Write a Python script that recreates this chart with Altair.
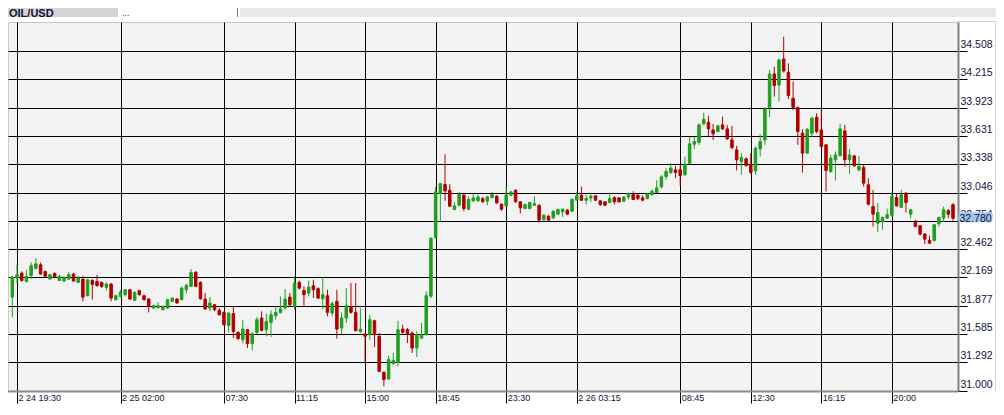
import altair as alt
import pandas as pd

# ---- OHLC data (15-minute candles, OIL/USD) ----
opens = [
    31.966, 32.163, 32.214, 32.128, 32.190, 32.262, 32.300, 32.231, 32.152, 32.211,
    32.138, 32.132, 32.152, 32.204, 32.118, 32.152, 31.980, 32.138, 32.128, 32.118,
    32.066, 32.101, 31.939, 31.973, 31.991, 32.042, 31.932, 32.032, 31.980, 31.946,
    31.853, 31.860, 31.836, 31.853, 31.922, 31.946, 31.939, 32.042, 32.077, 32.224,
    32.118, 31.946, 31.853, 31.887, 31.829, 31.808, 31.671, 31.795, 31.602, 31.526,
    31.629, 31.485, 31.602, 31.750, 31.629, 31.705, 31.774, 31.808, 31.853, 31.966,
    31.870, 32.118, 32.035, 32.008, 32.083, 32.053, 31.949, 31.980, 31.801, 31.922,
    31.647, 31.750, 31.870, 31.808, 31.612, 31.585, 31.578, 31.722, 31.561, 31.189,
    31.120, 31.279, 31.292, 31.636, 31.629, 31.595, 31.440, 31.543, 31.578, 31.975,
    32.578, 33.036, 33.129, 33.070, 32.871, 32.915, 33.019, 32.874, 32.960, 32.960,
    32.984, 32.957, 32.994, 33.008, 32.926, 32.908, 33.019, 33.070, 32.950, 32.881,
    32.881, 32.915, 32.915, 32.768, 32.802, 32.785, 32.823, 32.847, 32.864, 32.853,
    32.967, 33.019, 32.967, 32.991, 33.012, 32.960, 32.950, 32.943, 32.994, 32.991,
    32.957, 33.001, 33.025, 33.019, 32.991, 32.984, 33.025, 33.046, 33.105, 33.212,
    33.253, 33.281, 33.281, 33.229, 33.349, 33.545, 33.563, 33.755, 33.772, 33.693,
    33.676, 33.745, 33.704, 33.590, 33.487, 33.367, 33.394, 33.339, 33.270, 33.497,
    33.590, 33.927, 34.271, 34.158, 34.426, 34.288, 34.020, 33.924, 33.659, 33.453,
    33.659, 33.824, 33.693, 33.539, 33.263, 33.384, 33.429, 33.683, 33.384, 33.425,
    33.281, 33.305, 33.126, 32.902, 32.730, 32.748, 32.782, 32.810, 32.995, 32.895,
    33.040, 32.823, 32.737, 32.703, 32.617, 32.552, 32.552, 32.724, 32.782, 32.858,
    32.920,
]
highs = [
    32.187, 32.300, 32.231, 32.248, 32.324, 32.369, 32.324, 32.238, 32.204, 32.221,
    32.197, 32.180, 32.224, 32.214, 32.187, 32.187, 32.152, 32.152, 32.197, 32.128,
    32.118, 32.111, 31.991, 32.035, 32.049, 32.049, 32.025, 32.042, 31.991, 31.956,
    31.887, 31.912, 31.877, 31.946, 31.966, 31.956, 32.077, 32.104, 32.255, 32.231,
    32.128, 32.008, 31.966, 31.894, 31.853, 31.819, 31.808, 31.870, 31.612, 31.726,
    31.636, 31.602, 31.760, 31.819, 31.795, 31.829, 31.870, 31.973, 32.049, 32.008,
    32.180, 32.138, 32.077, 32.138, 32.145, 32.066, 32.173, 32.042, 31.922, 32.042,
    31.808, 32.059, 32.111, 32.111, 31.853, 31.595, 31.784, 31.733, 31.595, 31.200,
    31.361, 31.389, 31.722, 31.681, 31.647, 31.612, 31.612, 31.698, 32.025, 32.585,
    33.105, 33.146, 33.442, 33.132, 32.950, 33.053, 33.029, 33.008, 33.036, 33.025,
    33.001, 33.012, 33.053, 33.019, 32.932, 33.111, 33.060, 33.077, 32.957, 32.932,
    32.950, 33.008, 32.922, 32.823, 32.812, 32.864, 32.881, 32.881, 32.874, 32.984,
    33.053, 33.105, 33.025, 33.043, 33.019, 32.967, 32.957, 33.046, 33.008, 33.001,
    33.008, 33.046, 33.060, 33.029, 33.019, 33.043, 33.077, 33.173, 33.225, 33.298,
    33.349, 33.322, 33.332, 33.418, 33.625, 33.618, 33.762, 33.872, 33.838, 33.755,
    33.745, 33.831, 33.745, 33.735, 33.528, 33.453, 33.411, 33.453, 33.521, 33.649,
    33.927, 34.312, 34.347, 34.433, 34.656, 34.381, 34.192, 33.934, 33.700, 33.711,
    33.831, 33.865, 33.907, 33.545, 33.435, 33.470, 33.755, 33.745, 33.494, 33.435,
    33.425, 33.332, 33.195, 33.074, 32.937, 32.799, 32.878, 33.040, 33.040, 33.074,
    33.050, 32.875, 32.765, 32.713, 32.627, 32.600, 32.724, 32.799, 32.902, 32.875,
    32.937,
]
lows = [
    31.757, 32.111, 32.128, 32.118, 32.152, 32.255, 32.197, 32.173, 32.152, 32.163,
    32.135, 32.128, 32.145, 32.128, 32.111, 31.922, 31.973, 31.939, 32.077, 32.059,
    32.035, 31.922, 31.932, 31.966, 31.973, 31.939, 31.929, 31.980, 31.932, 31.808,
    31.846, 31.846, 31.829, 31.846, 31.915, 31.898, 31.932, 32.001, 32.070, 32.070,
    31.939, 31.836, 31.819, 31.819, 31.777, 31.671, 31.602, 31.543, 31.526, 31.492,
    31.440, 31.416, 31.578, 31.612, 31.561, 31.554, 31.733, 31.795, 31.836, 31.870,
    31.836, 32.042, 31.877, 31.973, 31.956, 31.946, 31.843, 31.767, 31.767, 31.537,
    31.578, 31.698, 31.795, 31.612, 31.595, 31.286, 31.526, 31.451, 31.189, 31.045,
    31.114, 31.268, 31.251, 31.588, 31.492, 31.389, 31.347, 31.533, 31.568, 31.955,
    32.571, 32.743, 32.960, 32.898, 32.864, 32.908, 32.853, 32.864, 32.950, 32.950,
    32.943, 32.915, 32.984, 32.932, 32.857, 32.898, 33.008, 32.943, 32.829, 32.874,
    32.874, 32.908, 32.737, 32.750, 32.750, 32.771, 32.812, 32.795, 32.812, 32.847,
    32.960, 32.960, 32.922, 32.950, 32.960, 32.908, 32.908, 32.939, 32.922, 32.943,
    32.950, 32.977, 32.967, 32.967, 32.957, 32.974, 33.012, 33.036, 33.087, 33.177,
    33.239, 33.195, 33.116, 33.222, 33.343, 33.494, 33.539, 33.745, 33.631, 33.590,
    33.669, 33.693, 33.590, 33.494, 33.274, 33.229, 33.315, 33.239, 33.229, 33.418,
    33.539, 33.824, 34.037, 33.986, 34.285, 34.013, 33.900, 33.539, 33.253, 33.446,
    33.625, 33.659, 33.514, 33.057, 33.253, 33.171, 33.418, 33.315, 33.239, 33.315,
    33.263, 33.109, 32.913, 32.696, 32.638, 32.662, 32.775, 32.799, 32.902, 32.885,
    32.840, 32.782, 32.689, 32.603, 32.514, 32.514, 32.541, 32.696, 32.741, 32.782,
    32.758,
]
closes = [
    32.173, 32.197, 32.138, 32.180, 32.290, 32.310, 32.204, 32.180, 32.197, 32.176,
    32.180, 32.169, 32.197, 32.132, 32.163, 31.966, 32.145, 32.097, 32.083, 32.077,
    32.101, 31.956, 31.980, 32.018, 32.042, 31.946, 32.015, 31.991, 31.939, 31.877,
    31.877, 31.877, 31.870, 31.939, 31.956, 31.905, 32.059, 32.087, 32.221, 32.077,
    31.949, 31.843, 31.905, 31.836, 31.784, 31.681, 31.801, 31.612, 31.537, 31.636,
    31.485, 31.588, 31.733, 31.623, 31.715, 31.784, 31.808, 31.846, 31.946, 31.887,
    32.111, 32.059, 31.991, 32.070, 32.042, 31.956, 31.991, 31.808, 31.898, 31.636,
    31.750, 31.877, 31.808, 31.619, 31.636, 31.561, 31.733, 31.578, 31.200, 31.114,
    31.320, 31.313, 31.629, 31.602, 31.588, 31.440, 31.578, 31.578, 31.980, 32.573,
    33.053, 33.139, 33.063, 32.905, 32.908, 33.025, 32.881, 32.974, 32.991, 33.001,
    32.950, 33.001, 33.025, 32.939, 32.874, 33.019, 33.053, 32.950, 32.888, 32.922,
    32.943, 32.932, 32.761, 32.812, 32.761, 32.853, 32.871, 32.874, 32.823, 32.977,
    33.012, 32.967, 32.984, 33.008, 32.967, 32.922, 32.915, 32.984, 32.950, 32.950,
    33.001, 33.036, 32.974, 32.984, 32.967, 33.029, 33.060, 33.094, 33.208, 33.263,
    33.298, 33.253, 33.222, 33.339, 33.549, 33.573, 33.745, 33.803, 33.704, 33.652,
    33.735, 33.704, 33.601, 33.511, 33.384, 33.408, 33.325, 33.253, 33.504, 33.573,
    33.910, 34.271, 34.151, 34.415, 34.302, 34.048, 33.927, 33.676, 33.453, 33.700,
    33.814, 33.676, 33.521, 33.274, 33.401, 33.435, 33.704, 33.384, 33.435, 33.322,
    33.315, 33.143, 32.926, 32.823, 32.840, 32.789, 32.816, 33.006, 32.909, 33.023,
    32.944, 32.868, 32.696, 32.617, 32.565, 32.524, 32.713, 32.789, 32.868, 32.823,
    32.780,
]

# ---- axis ticks / labels ----
x_tick_idx = [1, 23, 45, 60, 75, 90, 105, 120, 142, 157, 172, 187]
x_tick_lbl = ["2 24 19:30", "2 25 02:00", "07:30", "11:15", "15:00", "18:45",
              "23:30", "2 26 03:15", "08:45", "12:30", "16:15", "20:00"]
y_ticks = [31.000, 31.292, 31.585, 31.877, 32.169, 32.462, 32.754,
           33.046, 33.338, 33.631, 33.923, 34.215, 34.508]
symbol = "OIL/USD"

GREEN = "#1f9f1f"
RED = "#b00000"
TXT = "#10143a"
FONT = "Liberation Sans"

n = len(opens)
df = pd.DataFrame({"i": list(range(n)), "o": opens, "h": highs, "l": lows, "c": closes})
df["dir"] = ["up" if c >= o else "down" for o, c in zip(opens, closes)]

label_expr = " : ".join(f"datum.value == {i} ? '{t}'" for i, t in zip(x_tick_idx, x_tick_lbl)) + " : ''"

xscale = alt.Scale(domain=[-0.92, 201.06], nice=False, zero=False, padding=0)
yscale = alt.Scale(domain=[30.996, 34.808], nice=False, zero=False, padding=0)

xaxis = alt.Axis(values=x_tick_idx, labelExpr=label_expr, title=None,
                 grid=True, gridColor="black", gridOpacity=1, gridWidth=1,
                 ticks=True, tickColor="black", tickSize=12, tickWidth=1,
                 domain=True, domainColor="#8a8a8a", domainWidth=2,
                 labelAlign="left", labelBaseline="alphabetic", labelPadding=-3,
                 labelOffset=1, labelFont=FONT, labelFontSize=9, labelColor=TXT,
                 labelOverlap=False, labelBound=False, labelFlush=False)
yaxis = alt.Axis(orient="right", values=y_ticks, format=".3f", title=None,
                 grid=True, gridColor="black", gridOpacity=1, gridWidth=1,
                 ticks=True, tickColor="black", tickSize=9, tickWidth=1,
                 domain=True, domainColor="#808080", domainWidth=2,
                 labelAlign="left", labelBaseline="alphabetic", labelPadding=-7,
                 labelOffset=-3.5, labelFont=FONT, labelFontSize=10.5, labelColor=TXT,
                 labelOverlap=False, labelBound=False, labelFlush=False)

X = alt.X("i:Q", scale=xscale, axis=xaxis)
cscale = alt.Scale(domain=["up", "down"], range=[GREEN, RED])

base = alt.Chart(df)

wicks = base.mark_rule(strokeWidth=1).encode(
    x=X,
    y=alt.Y("l:Q", scale=yscale, axis=yaxis),
    y2="h:Q",
    color=alt.Color("dir:N", scale=cscale, legend=None),
)
bodies = base.mark_bar(size=2.5, strokeWidth=1).encode(
    x=X,
    y=alt.Y("o:Q", scale=yscale, axis=yaxis),
    y2="c:Q",
    color=alt.Color("dir:N", scale=cscale, legend=None),
    stroke=alt.Stroke("dir:N", scale=cscale, legend=None),
)

last = base.transform_filter(f"datum.i == {n - 1}").transform_calculate(
    ytop="datum.c + 0.062", ybot="datum.c - 0.041")
price_box = last.mark_rect(color="#a6c3f2", cornerRadius=2).encode(
    x=alt.value(950.5), x2=alt.value(984.5),
    y=alt.Y("ytop:Q", scale=yscale, axis=yaxis), y2="ybot:Q")
price_txt = last.mark_text(align="left", baseline="alphabetic", dy=3.5,
                           font=FONT, fontSize=10.5, color=TXT).encode(
    x=alt.value(951.5),
    y=alt.Y("c:Q", scale=yscale, axis=yaxis),
    text=alt.Text("c:Q", format=".3f"))

# ---- header strip ----
hdr = alt.Chart(pd.DataFrame({"t": [symbol]}))
tab = hdr.mark_rect(color="#d4d4d4").encode(
    x=alt.value(0), x2=alt.value(110), y=alt.value(-14), y2=alt.value(-5))
bar = hdr.mark_rect(color="#e8e8e8").encode(
    x=alt.value(232), x2=alt.value(988), y=alt.value(-14), y2=alt.value(-5))
sep = hdr.mark_rule(color="#7a7a7a", strokeWidth=1).encode(
    x=alt.value(229.5), y=alt.value(-14), y2=alt.value(-5))
tab_txt = hdr.mark_text(align="left", baseline="alphabetic", font=FONT,
                        fontSize=11, fontWeight="bold", color=TXT).encode(
    x=alt.value(1), y=alt.value(-5.5), text="t:N")
dots = hdr.mark_text(align="left", baseline="alphabetic", font=FONT,
                     fontSize=9, color="#6a2a2a").encode(
    x=alt.value(114), y=alt.value(-6), text=alt.value("..."))
top_line = hdr.mark_rule(color="#cfcfcf", strokeWidth=1).encode(
    x=alt.value(950), x2=alt.value(988), y=alt.value(-0.5))
right_line = hdr.mark_rule(color="#d4d4d4", strokeWidth=1).encode(
    x=alt.value(987.5), y=alt.value(-0.5), y2=alt.value(369))

chart = alt.layer(
    wicks, bodies, price_box, price_txt,
    tab, bar, sep, tab_txt, dots, top_line, right_line,
).properties(
    width=950, height=369,
    autosize=alt.AutoSizeParams(type="none"),
    padding={"left": 0, "top": 14, "right": 38, "bottom": 14},
    background="white",
).configure_view(
    fill="#f2f2f2", stroke="#c8c8c8", strokeWidth=1,
)

chart.save("out.html", embed_options={"renderer": "svg", "actions": False})
